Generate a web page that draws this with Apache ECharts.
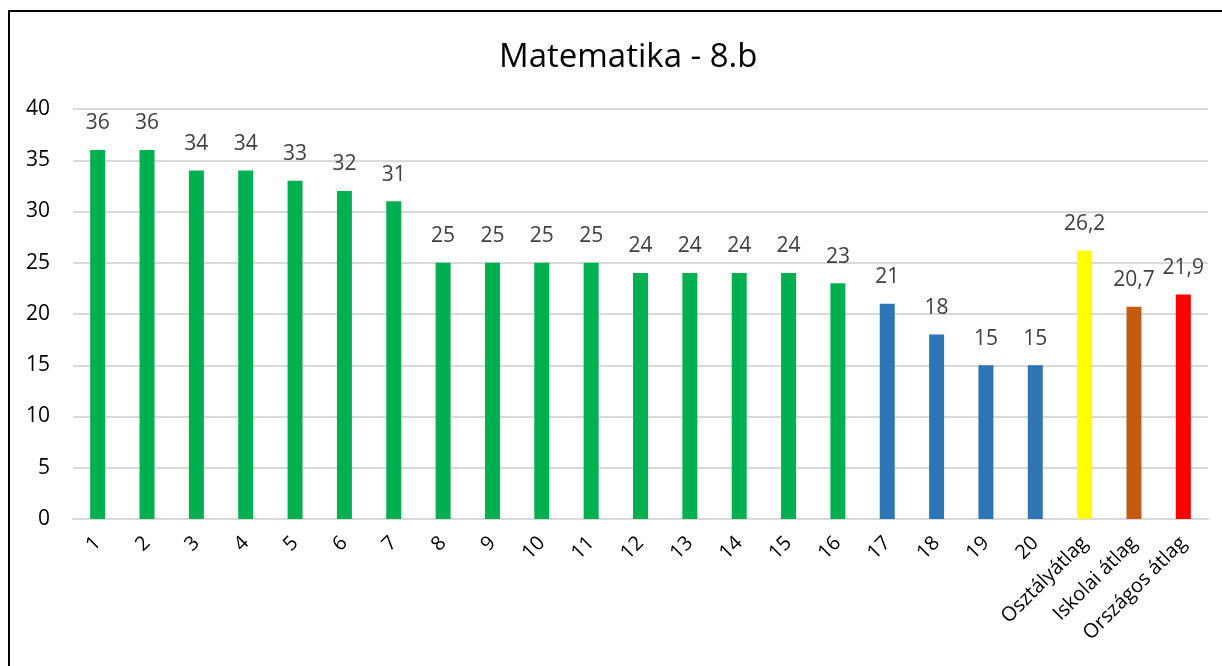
<!DOCTYPE html>
<html>
<head>
<meta charset="utf-8">
<script src="https://cdn.jsdelivr.net/npm/echarts@6/dist/echarts.min.js"></script>
<style>
  html, body { margin: 0; padding: 0; background: #fff; }
  #frame {
    position: absolute; left: 8px; top: 10px; width: 1240px; height: 700px;
    border-left: 2px solid #000; border-top: 2px solid #000;
  }
  #chart { position: absolute; left: 0; top: 0; width: 1222px; height: 666px; }
</style>
</head>
<body>
<div id="frame"></div>
<div id="chart"></div>
<script>
const categories = ['1', '2', '3', '4', '5', '6', '7', '8', '9', '10', '11', '12', '13', '14', '15', '16', '17', '18', '19', '20',
  'Osztályátlag', 'Iskolai átlag', 'Országos átlag'];
const scores = [36, 36, 34, 34, 33, 32, 31, 25, 25, 25, 25, 24, 24, 24, 24, 23, 21, 18, 15, 15, 26.2, 20.7, 21.9];
const yTicks = [0, 5, 10, 15, 20, 25, 30, 35, 40];

// színek: 1-16 zöld, 17-20 kék, átlagok külön
function barColor(i) {
  if (i < 16) return '#00B050';
  if (i < 20) return '#2E75B6';
  return ['#FFFF00', '#C55A11', '#FF0000'][i - 20];
}

const font = '"Open Sans", sans-serif';
const chart = echarts.init(document.getElementById('chart'));
chart.setOption({
  animation: false,
  title: {
    text: 'Matematika - 8.b',
    left: 494,
    top: 36,
    textStyle: { fontFamily: font, fontSize: 33, fontWeight: 'normal', color: '#000' }
  },
  grid: { left: 73, right: 14, top: 109, bottom: 147 },
  xAxis: {
    type: 'category',
    data: categories,
    axisLine: { lineStyle: { color: '#d9d9d9', width: 2 } },
    axisTick: { show: false },
    axisLabel: {
      rotate: 45,
      interval: 0,
      margin: 21,
      fontFamily: font,
      fontSize: 20,
      color: '#000'
    }
  },
  yAxis: {
    type: 'value',
    min: yTicks[0],
    max: yTicks[yTicks.length - 1],
    interval: 5,
    axisLine: { show: false },
    axisTick: { show: false },
    splitLine: { lineStyle: { color: '#d9d9d9', width: 2 } },
    axisLabel: { fontFamily: font, fontSize: 21, color: '#000', margin: 23 }
  },
  series: [{
    type: 'bar',
    barWidth: 15,
    data: scores.map((v, i) => ({ value: v, itemStyle: { color: barColor(i) } })),
    label: {
      show: true,
      position: 'top',
      distance: 16,
      fontFamily: font,
      fontSize: 21,
      color: '#404040',
      formatter: p => String(p.value).replace('.', ',')
    }
  }]
});
</script>
</body>
</html>
